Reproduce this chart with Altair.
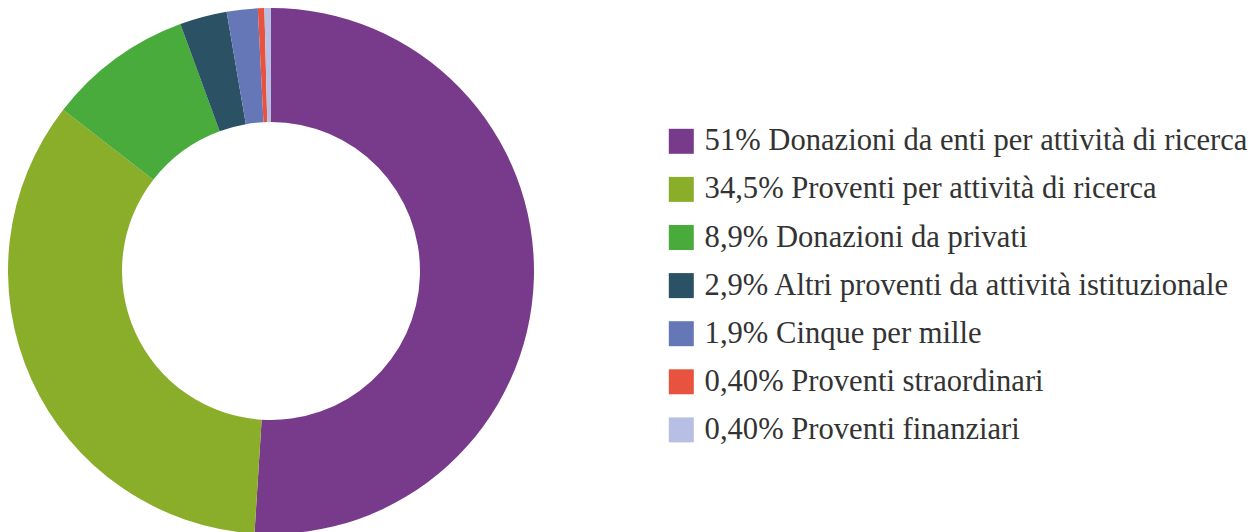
import altair as alt
import pandas as pd

categories = [
    "Donazioni da enti per attività di ricerca",
    "Proventi per attività di ricerca",
    "Donazioni da privati",
    "Altri proventi da attività istituzionale",
    "Cinque per mille",
    "Proventi straordinari",
    "Proventi finanziari",
]
values = [51.0, 34.5, 8.9, 2.9, 1.9, 0.4, 0.4]
value_labels = ["51%", "34,5%", "8,9%", "2,9%", "1,9%", "0,40%", "0,40%"]
colors = ["#783a8a", "#8aad2a", "#4aab3d", "#2a5264", "#6677b8", "#e8533f", "#b7c0e4"]

legend_labels = [f"{p} {c}" for p, c in zip(value_labels, categories)]

df = pd.DataFrame({
    "label": legend_labels,
    "value": values,
    "order": list(range(len(values))),
})

chart = alt.Chart(df).mark_arc(outerRadius=263, innerRadius=149).encode(
    theta=alt.Theta("value:Q", stack=True),
    order=alt.Order("order:Q"),
    color=alt.Color(
        "label:N",
        scale=alt.Scale(domain=legend_labels, range=colors),
        sort=legend_labels,
        legend=alt.Legend(
            title=None,
            orient="none",
            legendX=658,
            legendY=118,
            symbolType="square",
            symbolSize=625,
            symbolStrokeWidth=0,
            labelFont="Liberation Serif",
            labelFontSize=30.6,
            labelColor="#333333",
            labelLimit=0,
            labelOffset=8,
            rowPadding=17.1,
        ),
    ),
).properties(
    width=526,
    height=526,
    padding=0,
).configure_view(stroke=None)

chart.save("out.html", embed_options={"renderer": "svg", "actions": False})
